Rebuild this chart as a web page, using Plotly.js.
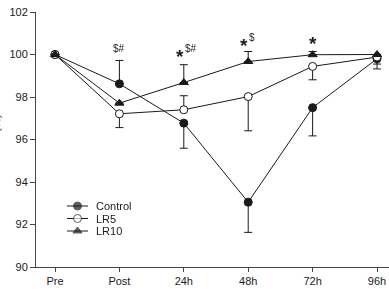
<!DOCTYPE html>
<html>
<head>
<meta charset="utf-8">
<script src="https://cdn.plot.ly/plotly-3.0.1.min.js"></script>
<style>
  html, body { margin: 0; padding: 0; background: #fff; }
  #chart { width: 389px; height: 289px; }
  /* grayscale antialiasing for small annotation glyphs */
  #chart .annotation-text { opacity: 0.99; will-change: transform; }
</style>
</head>
<body>
<div id="chart"></div>
<script>
// Time points
const timePoints = ['Pre', 'Post', '24h', '48h', '72h', '96h'];

// Group means (% of baseline)
const controlMean = [100, 98.62, 96.77, 93.05, 97.50, 99.80];
const lr5Mean     = [100, 97.21, 97.40, 98.02, 99.44, 99.88];
const lr10Mean    = [100, 97.71, 98.68, 99.67, 99.99, 100.0];

// One-sided error bars (SD drawn away from the other groups)
const controlErrUp   = [0, 1.10, 0, 0, 0, 0];
const controlErrDown = [0, 0, 1.18, 1.42, 1.33, 0.48];
const lr5ErrUp       = [0, 0, 0.66, 0, 0, 0];
const lr5ErrDown     = [0, 0.65, 0, 1.61, 0.63, 0.33];
const lr10ErrUp      = [0, 0, 0.84, 0.47, 0.15, 0];
const lr10ErrDown    = [0, 0, 0, 0, 0, 0];

// Significance marks: star (vs control) plus other symbols, and their heights
const sigStar   = [false, false, true, true, true, false];
const sigSymbol = ['', '$#', '$#', '$', '', ''];
const starLevel = [null, null, 100.13, 100.68, 100.76, null];
const symLevel  = [null, 100.26, 100.26, 100.79, null, null];

const seriesNames = ['Control', 'LR5', 'LR10'];

const FONT = 'Liberation Sans, Arial, sans-serif';
const INK = '#1a1a1a';

function errorBars(up, down) {
  return {
    type: 'data', symmetric: false, array: up, arrayminus: down,
    color: INK, thickness: 1, width: 4
  };
}

const styles = [
  { symbol: 'circle',      color: INK },
  { symbol: 'circle',      color: '#fff' },
  { symbol: 'triangle-up', color: INK }
];

const means = [controlMean, lr5Mean, lr10Mean];
const errs  = [[controlErrUp, controlErrDown], [lr5ErrUp, lr5ErrDown], [lr10ErrUp, lr10ErrDown]];

const traces = seriesNames.map((name, i) => ({
  type: 'scatter', mode: 'lines+markers', name: name,
  x: timePoints, y: means[i],
  line: { color: INK, width: 1 },
  marker: {
    symbol: styles[i].symbol, size: 8,
    color: styles[i].color, line: { color: INK, width: 1 }
  },
  error_y: errorBars(errs[i][0], errs[i][1]),
  showlegend: false, cliponaxis: false
}));

// Compact legend drawn on a pixel-scaled overlay axis pair
const legendX = [67, 77.5, 88];
const legendRowY = [206, 218.5, 231];
seriesNames.forEach((name, i) => {
  traces.push({
    type: 'scatter', mode: 'lines+markers', xaxis: 'x2', yaxis: 'y2',
    x: legendX, y: legendX.map(() => legendRowY[i]),
    line: { color: INK, width: 1 },
    marker: {
      symbol: styles[i].symbol, size: [0, 8, 0],
      color: styles[i].color, line: { color: INK, width: [0, 1, 0] }
    },
    showlegend: false, hoverinfo: 'skip', cliponaxis: false
  });
});

const escapeDollar = s => s.replace(/\$/g, '&#36;');

const annotations = [];
timePoints.forEach((t, i) => {
  const hasSym = sigSymbol[i] !== '';
  if (sigStar[i]) {
    annotations.push({
      x: t, y: starLevel[i], xref: 'x', yref: 'y', text: '<b>*</b>',
      showarrow: false, font: { family: FONT, size: 19, color: INK },
      xanchor: hasSym ? 'right' : 'center', yanchor: 'middle',
      xshift: hasSym ? 1 : 0, yshift: -5, borderpad: 0
    });
  }
  if (hasSym) {
    annotations.push({
      x: t, y: symLevel[i], xref: 'x', yref: 'y', text: escapeDollar(sigSymbol[i]),
      showarrow: false, font: { family: FONT, size: 10, color: INK },
      xanchor: sigStar[i] ? 'left' : 'center', yanchor: 'middle',
      xshift: 0, borderpad: 0
    });
  }
});
seriesNames.forEach((name, i) => {
  annotations.push({
    x: 94, y: legendRowY[i], xref: 'x2', yref: 'y2', text: name,
    showarrow: false, font: { family: FONT, size: 11, color: INK },
    xanchor: 'left', yanchor: 'middle'
  });
});
// y-axis title (mostly outside the visible area)
annotations.push({
  x: 0, y: 96.74, xref: 'paper', yref: 'y', text: '(%)', textangle: -90,
  showarrow: false, font: { family: FONT, size: 11, color: INK },
  xanchor: 'right', yanchor: 'middle', xshift: -32
});

const layout = {
  width: 389, height: 289,
  margin: { l: 36, r: 0, t: 12, b: 22, pad: 0 },
  paper_bgcolor: '#fff', plot_bgcolor: '#fff',
  font: { family: FONT, size: 11, color: INK },
  showlegend: false,
  xaxis: {
    type: 'category', range: [-0.295, 5.186], autorange: false,
    showline: true, linecolor: '#444', linewidth: 1,
    ticks: 'outside', ticklen: 4, tickcolor: '#444',
    showgrid: false, zeroline: false,
    tickfont: { family: FONT, size: 11, color: INK }
  },
  yaxis: {
    range: [90, 102], autorange: false,
    tickvals: [90, 92, 94, 96, 98, 100, 102],
    showline: true, linecolor: '#444', linewidth: 1,
    ticks: 'outside', ticklen: 5, tickcolor: '#444',
    showgrid: false, zeroline: false,
    tickfont: { family: FONT, size: 11, color: INK }
  },
  xaxis2: { overlaying: 'x', range: [36, 389], autorange: false, visible: false, fixedrange: true },
  yaxis2: { overlaying: 'y', range: [267, 12], autorange: false, visible: false, fixedrange: true },
  annotations: annotations
};

Plotly.newPlot('chart', traces, layout, { staticPlot: true, displayModeBar: false });
</script>
</body>
</html>
